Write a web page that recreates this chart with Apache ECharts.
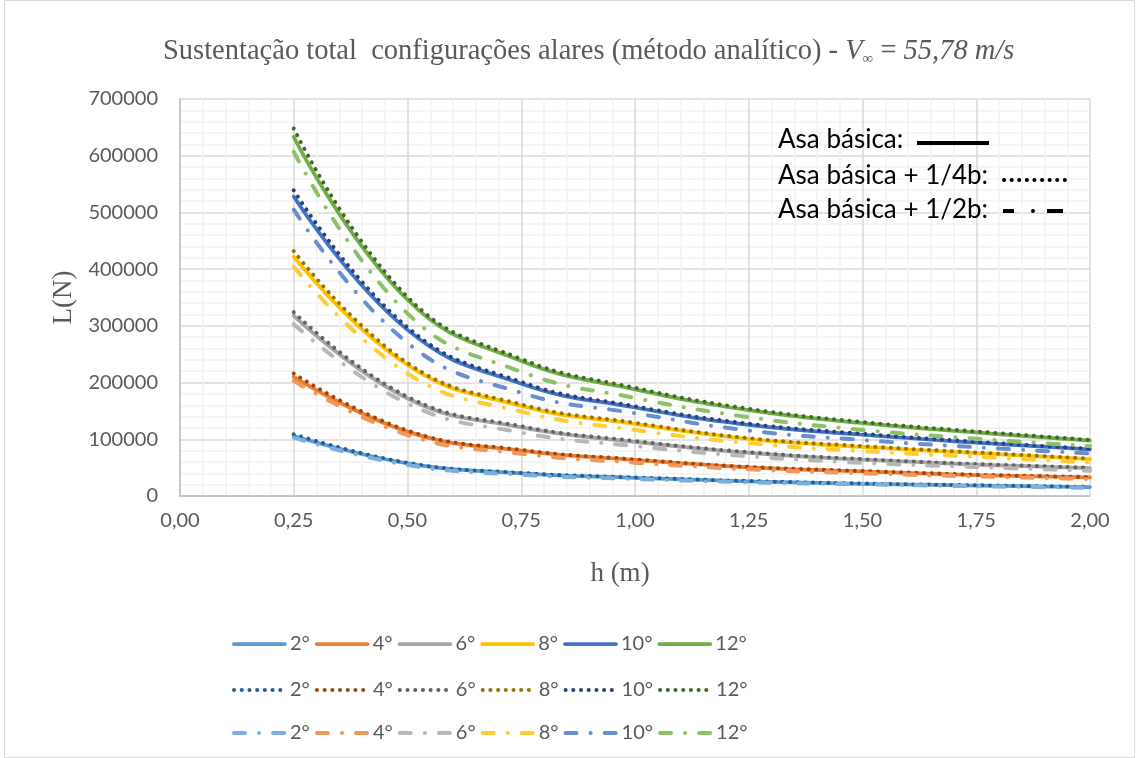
<!DOCTYPE html>
<html>
<head>
<meta charset="utf-8">
<title>Sustentação total</title>
<script src="https://cdn.jsdelivr.net/npm/echarts@6/dist/echarts.min.js"></script>
<style>
  html, body { margin: 0; padding: 0; background: #fff; }
  #chart { width: 1139px; height: 758px; }
</style>
</head>
<body>
<div id="chart"></div>
<script>
// Heights above ground (m)
const hValues = [0.25, 0.5, 0.75, 1.0, 1.25, 1.5, 1.75, 2.0];
// Angles of attack
const angles = ['2°', '4°', '6°', '8°', '10°', '12°'];
const xTicks = ['0,00', '0,25', '0,50', '0,75', '1,00', '1,25', '1,50', '1,75', '2,00'];

// Lift L (N), basic wing
const liftBasic2 = [105800, 57600, 40000, 32000, 26000, 21500, 18500, 15800];
const liftBasic4 = [210000, 113500, 80000, 63500, 50500, 43500, 37000, 33000];
const liftBasic6 = [318000, 172000, 121000, 95500, 76000, 64000, 55500, 49000];
const liftBasic8 = [422000, 231000, 159000, 127000, 100500, 86500, 75500, 65000];
const liftBasic10 = [528000, 293000, 198000, 156000, 125500, 108000, 94000, 82000];
const liftBasic12 = [633000, 346000, 238000, 188000, 151500, 128500, 112000, 97500];

// Lift L (N), basic wing + 1/4 b
const liftQuarter2 = [108800, 58500, 40700, 32800, 26500, 22000, 18900, 16100];
const liftQuarter4 = [216000, 115500, 81300, 64500, 51300, 44200, 37600, 33500];
const liftQuarter6 = [324000, 175000, 123000, 97000, 77300, 65000, 56400, 49800];
const liftQuarter8 = [432000, 234500, 161500, 129000, 102000, 88000, 76700, 66000];
const liftQuarter10 = [539000, 297500, 201000, 158300, 127500, 109700, 95500, 83300];
const liftQuarter12 = [648000, 351000, 241500, 190800, 153800, 130500, 113800, 99000];

// Lift L (N), basic wing + 1/2 b
const liftHalf2 = [102800, 54600, 37500, 30000, 24300, 20600, 17200, 14600];
const liftHalf4 = [203000, 107500, 74500, 58800, 47000, 40000, 34500, 30000];
const liftHalf6 = [303000, 163000, 112000, 88000, 70000, 58500, 51000, 44600];
const liftHalf8 = [404000, 216000, 148700, 116500, 93000, 79000, 69000, 59000];
const liftHalf10 = [505000, 270000, 182000, 146000, 115500, 98700, 86000, 75000];
const liftHalf12 = [607000, 322000, 219000, 173000, 139000, 116500, 101000, 88000];

const configs = [
  { label: 'Asa básica', values: [liftBasic2, liftBasic4, liftBasic6, liftBasic8, liftBasic10, liftBasic12],
    colors: ['#5B9BD5', '#ED7D31', '#A5A5A5', '#FFC000', '#4472C4', '#70AD47'],
    line: { width: 3.75, type: 'solid', cap: 'round' } },
  { label: 'Asa básica + 1/4b', values: [liftQuarter2, liftQuarter4, liftQuarter6, liftQuarter8, liftQuarter10, liftQuarter12],
    colors: ['#255E91', '#9E480E', '#636363', '#997300', '#264478', '#43682B'],
    line: { width: 4, type: [0.1, 7.6], cap: 'round' } },
  { label: 'Asa básica + 1/2b', values: [liftHalf2, liftHalf4, liftHalf6, liftHalf8, liftHalf10, liftHalf12],
    colors: ['#7CAFDD', '#F1975A', '#B7B7B7', '#FFCD33', '#698ED0', '#8CC168'],
    line: { width: 4, type: [11, 14, 0.1, 14], cap: 'round' } }
];

const series = [];
const legendRows = [];
configs.forEach(cfg => {
  const names = [];
  angles.forEach((a, i) => {
    const name = cfg.label + ' ' + a;
    names.push(name);
    series.push({
      name: name,
      type: 'line',
      smooth: 0.45,
      showSymbol: false,
      symbol: 'none',
      silent: true,
      color: cfg.colors[i],
      lineStyle: Object.assign({ color: cfg.colors[i] }, cfg.line),
      data: hValues.map((h, k) => [h, cfg.values[i][k]])
    });
  });
  legendRows.push(names);
});

const gray = '#595959';
const calibriLike = 'Lato, "Liberation Sans", sans-serif';
const serif = '"Liberation Serif", "Times New Roman", serif';

const legends = legendRows.map((names, r) => ({
  data: names,
  orient: 'horizontal',
  left: 227,
  top: [629, 675, 718][r],
  itemWidth: 51,
  itemHeight: 14,
  itemGap: 5,
  selectedMode: false,
  formatter: n => n.split(' ').pop(),
  itemStyle: { opacity: 0 },
  lineStyle: { width: configs[r].line.width },
  textStyle: { color: gray, fontFamily: calibriLike, fontSize: 20, width: 24 }
}));

// text and sample strokes of the wing-configuration key
const keyFont = '26px ' + calibriLike;
const keyElements = [
  { type: 'text', x: 778, y: 127, style: { text: 'Asa básica:', font: keyFont, fill: '#000' } },
  { type: 'line', shape: { x1: 917, y1: 143, x2: 989, y2: 143 }, style: { stroke: '#000', lineWidth: 4 } },
  { type: 'text', x: 778, y: 163, style: { text: 'Asa básica + 1/4b:', font: keyFont, fill: '#000' } },
  { type: 'line', shape: { x1: 1004, y1: 180, x2: 1072, y2: 180 },
    style: { stroke: '#000', lineWidth: 4, lineDash: [0.1, 7.5], lineCap: 'round' } },
  { type: 'text', x: 778, y: 197, style: { text: 'Asa básica + 1/2b:', font: keyFont, fill: '#000' } },
  { type: 'line', shape: { x1: 1003, y1: 211, x2: 1014, y2: 211 }, style: { stroke: '#000', lineWidth: 4 } },
  { type: 'circle', shape: { cx: 1033, cy: 211, r: 2 }, style: { fill: '#000' } },
  { type: 'line', shape: { x1: 1047, y1: 211, x2: 1063, y2: 211 }, style: { stroke: '#000', lineWidth: 4 } }
].map(el => Object.assign({ z: 100, zlevel: 1 }, el));

const chart = echarts.init(document.getElementById('chart'), null, { renderer: 'canvas' });
chart.setOption({
  animation: false,
  backgroundColor: '#fff',
  title: {
    left: 158,
    top: 31,
    text: '{n|Sustentação total  configurações alares (método analítico) - }{i|V}{s|∞}{n| = }{i|55,78 m/s}',
    textStyle: {
      fontWeight: 'normal',
      rich: {
        n: { fontFamily: serif, fontSize: 28.5, color: gray, fontWeight: 'normal' },
        i: { fontFamily: serif, fontSize: 28.5, color: gray, fontStyle: 'italic', fontWeight: 'normal' },
        s: { fontFamily: serif, fontSize: 15, color: gray, fontWeight: 'normal', padding: [16, 0, 0, 0] }
      }
    }
  },
  legend: legends,
  grid: { left: 180, right: 49, top: 99, bottom: 262, containLabel: false },
  xAxis: {
    type: 'value', min: 0, max: 2, interval: 0.25,
    name: 'h (m)', nameLocation: 'middle', nameGap: 64,
    nameTextStyle: { fontFamily: serif, fontSize: 27, color: gray, padding: [0, 30, 0, 0] },
    axisLine: { show: true, lineStyle: { color: '#BFBFBF', width: 1.5 } },
    axisTick: { show: false },
    axisLabel: { color: gray, fontFamily: calibriLike, fontSize: 20, margin: 15,
      formatter: v => xTicks[Math.round(v / 0.25)] },
    splitLine: { show: true, lineStyle: { color: '#D9D9D9', width: 1.5 } },
    minorTick: { show: false, splitNumber: 5 },
    minorSplitLine: { show: true, lineStyle: { color: '#F2F2F2', width: 1.5 } }
  },
  yAxis: {
    type: 'value', min: 0, max: 700000, interval: 100000,
    name: 'L(N)', nameLocation: 'middle', nameGap: 102,
    nameTextStyle: { fontFamily: serif, fontSize: 27, color: gray },
    axisLine: { show: true, lineStyle: { color: '#BFBFBF', width: 1.5 } },
    axisTick: { show: false },
    axisLabel: { color: gray, fontFamily: calibriLike, fontSize: 20, margin: 22,
      formatter: v => String(v) },
    splitLine: { show: true, lineStyle: { color: '#D9D9D9', width: 1.5 } },
    minorTick: { show: false, splitNumber: 5 },
    minorSplitLine: { show: true, lineStyle: { color: '#F2F2F2', width: 1.5 } }
  },
  series: series,
  graphic: [
    { type: 'rect', z: -1, shape: { x: 4.5, y: 0.5, width: 1130, height: 757 },
      style: { fill: 'none', stroke: '#D9D9D9', lineWidth: 1 } }
  ].concat(keyElements)
});
</script>
</body>
</html>
